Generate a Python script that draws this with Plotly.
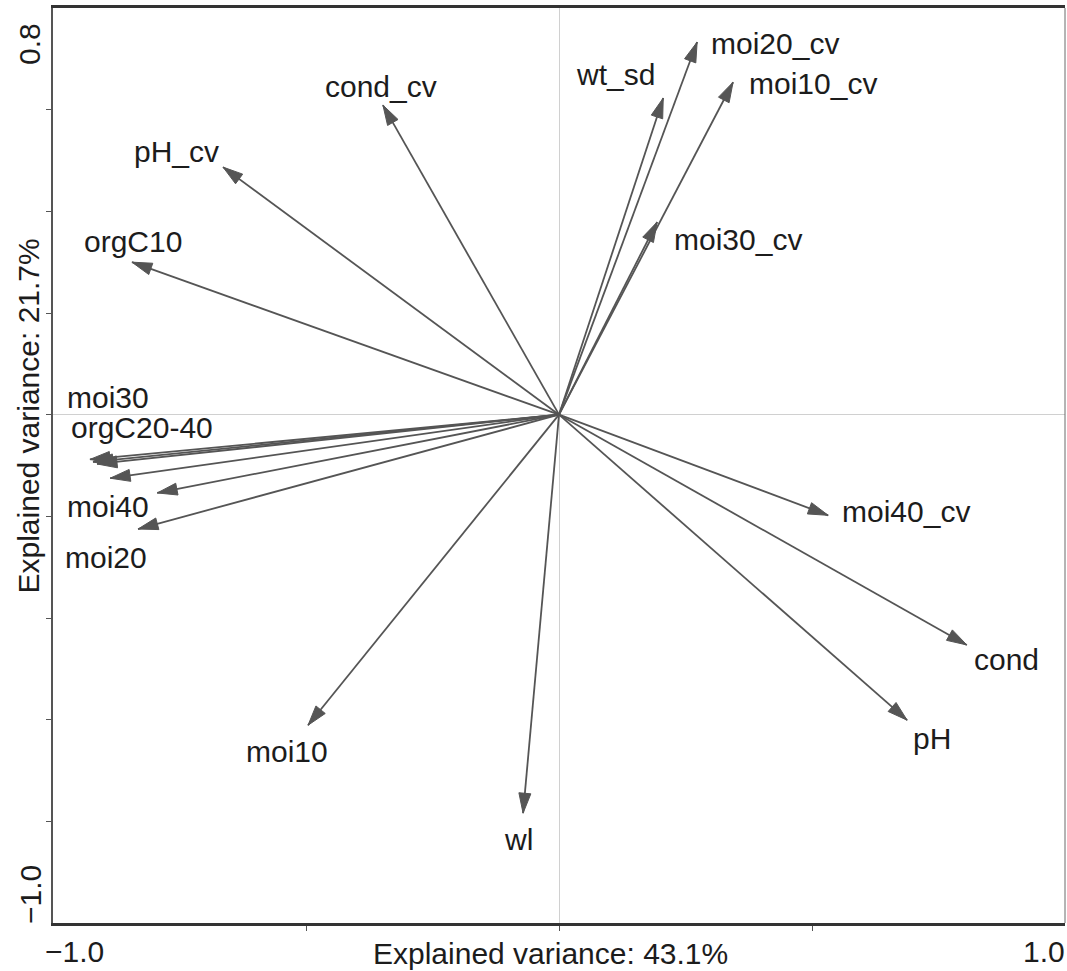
import numpy as np
import plotly.graph_objects as go

# ---------------- data ----------------
variables = ["cond_cv", "pH_cv", "orgC10", "wt_sd", "moi20_cv", "moi10_cv", "moi30_cv",
             "moi30", "orgC20", "orgC30", "orgC40", "moi40", "moi20",
             "moi40_cv", "cond", "pH", "moi10", "wl"]
pc1 = [-0.348, -0.664, -0.844, 0.206, 0.273, 0.344, 0.194,
       -0.927, -0.921, -0.913, -0.887, -0.794, -0.832,
       0.532, 0.806, 0.688, -0.496, -0.071]
pc2 = [0.609, 0.487, 0.300, 0.623, 0.733, 0.654, 0.379,
       -0.088, -0.093, -0.097, -0.125, -0.154, -0.225,
       -0.198, -0.453, -0.601, -0.611, -0.784]
# text shown next to arrow tips (grouped arrows share one label)
labels = {"cond_cv": "cond_cv", "pH_cv": "pH_cv", "orgC10": "orgC10", "wt_sd": "wt_sd",
          "moi20_cv": "moi20_cv", "moi10_cv": "moi10_cv", "moi30_cv": "moi30_cv",
          "moi30": "moi30", "orgC20": "orgC20-40", "moi40": "moi40", "moi20": "moi20",
          "moi40_cv": "moi40_cv", "cond": "cond", "pH": "pH", "moi10": "moi10", "wl": "wl"}
x_tick_labels = ["−1.0", "1.0"]
y_tick_labels = ["0.8", "−1.0"]
x_title = "Explained variance: 43.1%"
y_title = "Explained variance: 21.7%"

# ---------------- layout / style ----------------
W, H = 1067, 971
ML, MR, MT, MB = 53, 2, 8, 48
PW, PH = W - ML - MR, H - MT - MB
XR, YR = [-1.0, 1.0], [-1.0, 0.8]
KX = PW / (XR[1] - XR[0])   # px per data unit
KY = PH / (YR[1] - YR[0])

FONT = "Liberation Sans, Arial, Helvetica, sans-serif"
TXT = "#1c1c1c"
ARROW = "#555555"
FS = 30

# label offsets from arrow tip in screen px (dx right, dy down)
label_offsets = {"cond_cv": (-2, -18.5), "pH_cv": (-46.5, -15.5), "orgC10": (1, -20.5),
                 "wt_sd": (-48, -23), "moi20_cv": (78, 1), "moi10_cv": (80, 1),
                 "moi30_cv": (80.5, 17.5), "moi30": (18.5, -61.5), "orgC20": (49.5, -34),
                 "moi40": (-49.5, 13.5), "moi20": (-32, 28.5), "moi40_cv": (78, -3.5),
                 "cond": (39.5, 14.5), "pH": (25, 18), "moi10": (-21.5, 26.5), "wl": (-5, 26.5)}
HEAD_LEN, HEAD_HALF = 20.0, 6.0

fig = go.Figure()

# arrow shafts
lx, ly = [], []
for x, y in zip(pc1, pc2):
    lx += [0, x, None]
    ly += [0, y, None]
fig.add_trace(go.Scatter(x=lx, y=ly, mode="lines", line=dict(color=ARROW, width=1.8),
                         hoverinfo="skip", showlegend=False))

# arrow heads (filled triangles computed in screen space from each tip)
hx, hy = [], []
for x, y in zip(pc1, pc2):
    dx, dy = x * KX, y * KY
    n = np.hypot(dx, dy)
    ux, uy = dx / n, dy / n
    bx, by = dx - HEAD_LEN * ux, dy - HEAD_LEN * uy
    px_, py_ = -uy, ux
    pts = [(dx, dy), (bx + HEAD_HALF * px_, by + HEAD_HALF * py_),
           (bx - HEAD_HALF * px_, by - HEAD_HALF * py_), (dx, dy)]
    for a, b in pts:
        hx.append(a / KX)
        hy.append(b / KY)
    hx.append(None)
    hy.append(None)
fig.add_trace(go.Scatter(x=hx, y=hy, mode="lines", fill="toself", fillcolor=ARROW,
                         line=dict(color=ARROW, width=1), hoverinfo="skip", showlegend=False))

annotations = []
for v, x, y in zip(variables, pc1, pc2):
    if v not in labels:
        continue
    ox, oy = label_offsets[v]
    annotations.append(dict(x=x, y=y, xref="x", yref="y", text=labels[v], showarrow=False,
                            xanchor="center", yanchor="middle", xshift=ox, yshift=-oy,
                            font=dict(family=FONT, size=FS, color=TXT)))


def px2paper(px, py):
    return (px - ML) / PW, (MT + PH - py) / PH


# axis end labels and titles placed like the original
for txt, (px, py), ang in [(y_tick_labels[0], (30, 44), -90), (y_tick_labels[1], (30, 895), -90),
                           (x_tick_labels[0], (74, 951), 0), (x_tick_labels[1], (1044, 951), 0),
                           (x_title, (550, 953), 0), (y_title, (27.5, 416), -90)]:
    xp, yp = px2paper(px, py)
    annotations.append(dict(x=xp, y=yp, xref="paper", yref="paper", text=txt, showarrow=False,
                            textangle=ang, xanchor="center", yanchor="middle",
                            font=dict(family=FONT, size=FS, color=TXT)))

fig.update_layout(
    width=W, height=H, margin=dict(l=ML, r=MR, t=MT, b=MB, pad=0),
    paper_bgcolor="white", plot_bgcolor="white", showlegend=False,
    annotations=annotations,
    shapes=[dict(type="line", xref="paper", yref="paper", x0=1, x1=1, y0=0, y1=1,
                 line=dict(color="#6a6a6a", width=1))],
)
fig.update_xaxes(range=XR, showgrid=False, zeroline=True, zerolinecolor="#d0d0d0", zerolinewidth=1,
                 showline=True, linecolor="#333333", linewidth=2.5, mirror=True,
                 tickvals=[-0.5, 0, 0.5], ticks="outside", ticklen=5, tickcolor="#555555",
                 showticklabels=False, fixedrange=True)
fig.update_yaxes(range=YR, showgrid=False, zeroline=True, zerolinecolor="#d0d0d0", zerolinewidth=1,
                 showline=True, linecolor="#555555", linewidth=2, mirror=False,
                 tickvals=[-0.8, -0.6, -0.4, -0.2, 0, 0.2, 0.4, 0.6], ticks="outside", ticklen=5,
                 tickcolor="#555555", showticklabels=False, fixedrange=True)

fig.write_html("out.html")
